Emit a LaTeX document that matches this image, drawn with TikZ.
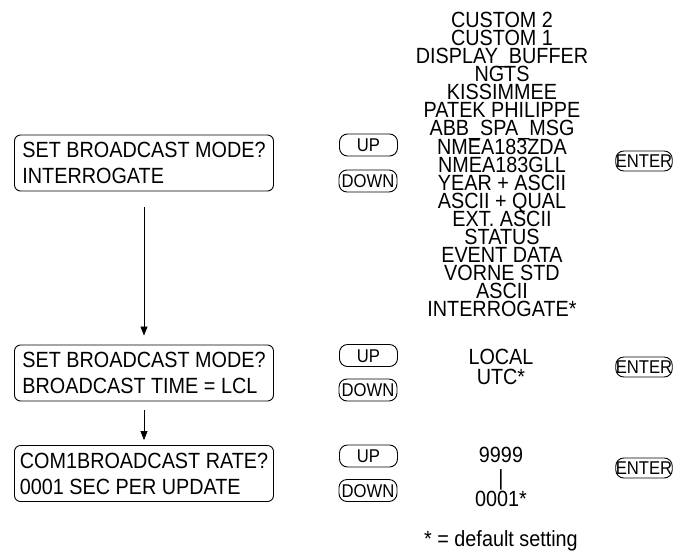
\documentclass[tikz,border=0pt]{standalone}
\usepackage{fontspec}
\setmainfont{Liberation Sans}[FakeStretch=0.9]
\usetikzlibrary{arrows.meta}
\begin{document}
\begin{tikzpicture}[x=1pt,y=-1pt,
  lcd/.style={draw, rounded corners=6pt, line width=0.9pt, minimum width=259pt,
    minimum height=56pt, align=left, inner sep=0pt, font=\fontsize{22}{26}\selectfont},
  btn/.style={draw, rounded corners=8pt, line width=0.9pt, minimum width=58pt,
    minimum height=22pt, inner sep=0pt, text height=13.2pt, text depth=0pt,
    font=\fontsize{18.5}{18.5}\selectfont},
  entbtn/.style={btn, minimum width=56pt, minimum height=20pt},
  item/.style={inner sep=0pt, text height=15.75pt, text depth=0pt, font=\fontsize{22}{22}\selectfont},
  arr/.style={-{Triangle[length=9pt,width=7pt]}, line width=0.7pt}]
\useasboundingbox (0,0) rectangle (675,550);

% mode list
\foreach \t [count=\i from 0] in {CUSTOM 2, CUSTOM 1, DISPLAY\_BUFFER, NGTS, KISSIMMEE,
  PATEK PHILIPPE, ABB\_SPA\_MSG, NMEA183ZDA, NMEA183GLL, YEAR + ASCII, ASCII + QUAL,
  EXT. ASCII, STATUS, EVENT DATA, VORNE STD, ASCII, INTERROGATE*}
  \node[item] (m\i) at (502,{19.5+18.1*\i}) {\t};

% row 1
\node[lcd] (b1) at (144,163) {SET BROADCAST MODE?\\INTERROGATE};
\node[btn] (up1) at (368.5,145) {UP};
\node[btn] (dn1) at (368,181) {DOWN};
\node[entbtn] (en1) at (644,161) {ENTER};

% row 2
\node[lcd] (b2) at (144,373) {SET BROADCAST MODE?\\BROADCAST TIME = LCL};
\node[btn] (up2) at (368.5,355.5) {UP};
\node[btn] (dn2) at (368,390) {DOWN};
\node[item] (loc) at (501,357) {LOCAL};
\node[item] (utc) at (501,377) {UTC*};
\node[entbtn] (en2) at (644,367) {ENTER};

% row 3
\node[lcd] (b3) at (144,473.5) {COM1BROADCAST RATE?\\0001 SEC PER UPDATE};
\node[btn] (up3) at (368.5,456) {UP};
\node[btn] (dn3) at (368,490.5) {DOWN};
\node[item] (r9) at (501,455) {9999};
\node[item] (rbar) at (501,478) {|};
\node[item] (r1) at (501,499) {0001*};
\node[entbtn] (en3) at (644,468) {ENTER};

\node[item] (note) at (501,538.5) {* = default setting};

% connectors
\draw[arr, shorten <=16pt, shorten >=9pt] (b1.south) -- (b2.north);
\draw[arr, shorten <=9pt, shorten >=5pt] (b2.south) -- (b3.north);
\end{tikzpicture}
\end{document}
